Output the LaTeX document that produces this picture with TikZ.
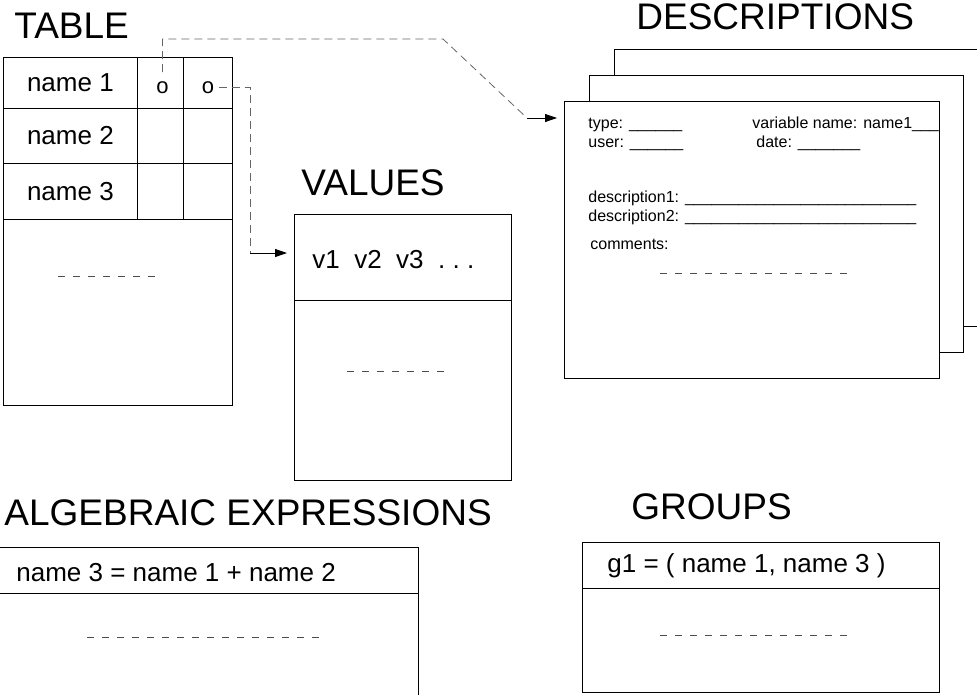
\documentclass[tikz,border=0pt]{standalone}
\usepackage{fontspec}
\setmainfont{Liberation Sans}
\usetikzlibrary{arrows.meta, positioning}

\newcommand{\blanks}[1]{\foreach \i in {1,...,#1}{\_}}

\begin{document}
\begin{tikzpicture}[x=1pt, y=-1pt, >={Triangle[length=12pt, width=8pt]}, line width=0.8pt,
    box/.style={draw, fill=white, inner sep=0pt, anchor=north west},
    title/.style={anchor=west, inner sep=0pt, font=\fontsize{37}{37}\selectfont},
    txt/.style={font=\fontsize{26}{26}\selectfont},
    ptr/.style={inner sep=0pt, font=\fontsize{22}{22}\selectfont},
    small/.style={anchor=base west, inner sep=0pt, font=\fontsize{16}{16}\selectfont},
    link/.style={draw=black!60, dash pattern=on 8pt off 5pt},
    filler/.style={draw=black!70, dash pattern=on 7pt off 8pt}]
    \useasboundingbox (0,0) rectangle (977,694);
    \clip (0,0) rectangle (977,694);

    % table
    \node (ttable) [title] at (14,26) {TABLE};
    \node (name1) [box, txt, minimum width=134pt, minimum height=51pt] at (3,57) {name 1};
    \node (c1a) [box, minimum width=46pt, minimum height=51pt] at (137,57) {};
    \node (c1b) [box, minimum width=49pt, minimum height=51pt] at (183,57) {};
    \node (name2) [box, txt, minimum width=134pt, minimum height=55pt] at (3,108) {name 2};
    \node (c2a) [box, minimum width=46pt, minimum height=55pt] at (137,108) {};
    \node (c2b) [box, minimum width=49pt, minimum height=55pt] at (183,108) {};
    \node (name3) [box, txt, minimum width=134pt, minimum height=56pt] at (3,163) {name 3};
    \node (c3a) [box, minimum width=46pt, minimum height=56pt] at (137,163) {};
    \node (c3b) [box, minimum width=49pt, minimum height=56pt] at (183,163) {};
    \node (tbody) [box, minimum width=229pt, minimum height=186pt] at (3,219) {};
    \node (o1) [ptr] at (162.5,87.5) {o};
    \node (o2) [ptr] at (208,87.5) {o};
    \draw[filler] (58,276) -- (157,276);

    % values
    \node (tvalues) [title] at (301,182.5) {VALUES};
    \node (vhead) [box, minimum width=217pt, minimum height=86pt] at (294,214) {};
    \node (vbody) [box, minimum width=217pt, minimum height=180pt] at (294,300) {};
    \node (vlist) [txt, anchor=west, inner sep=0pt] at (312,260) {v1~~v2~~v3~~.~.~.};
    \draw[filler] (347,371) -- (445,371);

    % descriptions
    \node (tdesc) [title] at (636,17) {DESCRIPTIONS};
    \node (back) [box, minimum width=400pt, minimum height=277pt] at (614,49) {};
    \node (middle) [box, minimum width=374pt, minimum height=277pt] at (589,75) {};
    \node (front) [box, minimum width=375pt, minimum height=277pt] at (564,101) {};
    \node (type) [small] at (588,128) {type: \blanks{6}};
    \node (user) [small] at (588,147) {user: \blanks{6}};
    \node (varname) [small] at (752,128) {variable name: name1\blanks{3}};
    \node (date) [small] at (756,147) {date: \blanks{7}};
    \node (desc1) [small] at (588,202) {description1: \blanks{26}};
    \node (desc2) [small] at (588,221) {description2: \blanks{26}};
    \node (comments) [small] at (590,249) {comments:};
    \draw[filler] (660,273) -- (848,273);

    % algebraic expressions
    \node (talg) [title] at (4,512.5) {ALGEBRAIC EXPRESSIONS};
    \node (ahead) [box, minimum width=425pt, minimum height=46pt] at (-7,547) {};
    \node (abody) [box, minimum width=425pt, minimum height=120pt] at (-7,593) {};
    \node (expr) [txt, anchor=west, inner sep=0pt] at (16,573) {name 3 = name 1 + name 2};
    \draw[filler] (87,637) -- (322,637);

    % groups
    \node (tgroups) [title] at (631,507) {GROUPS};
    \node (ghead) [box, minimum width=357pt, minimum height=46pt] at (582,542) {};
    \node (gbody) [box, minimum width=357pt, minimum height=104pt] at (582,588) {};
    \node (group) [txt, anchor=west, inner sep=0pt] at (607,566) {g1 = ( name 1, name 3 )};
    \draw[filler] (660,635) -- (848,635);

    % pointers
    \coordinate (k1) at (443,39);
    \coordinate (k2) at (527,118);
    \coordinate (k3) at (250,253);
    \draw[link] ([yshift=9pt]o1.north) |- (k1) -- (k2);
    \draw[->, shorten >=7pt] (k2) -- (k2 -| front.west);
    \draw[link] ([xshift=4pt]o2.east) -| (k3);
    \draw[->, shorten >=7pt] (k3) -- (k3 -| vhead.west);
\end{tikzpicture}
\end{document}
